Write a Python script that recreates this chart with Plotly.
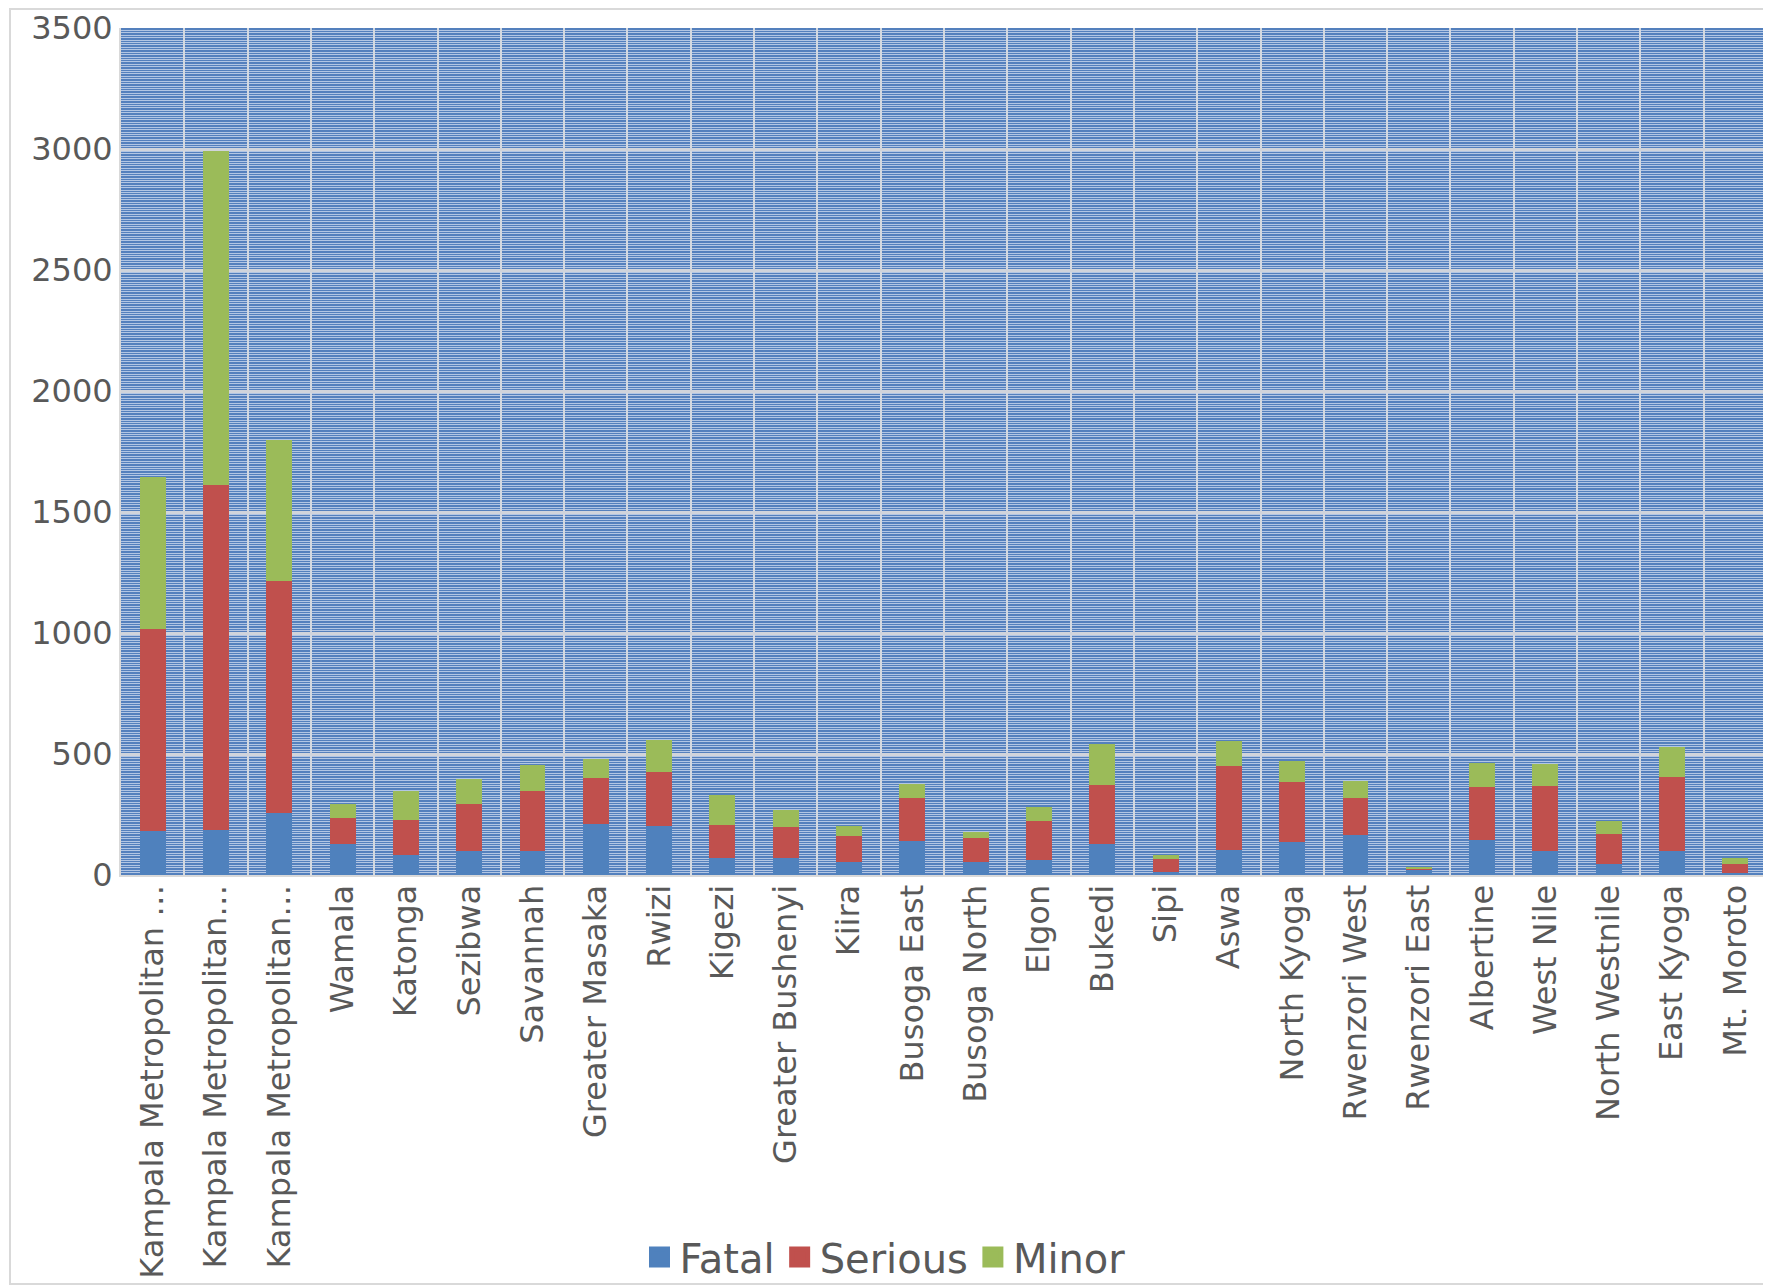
import plotly.graph_objects as go

categories = ["Kampala Metropolitan …", "Kampala Metropolitan…", "Kampala Metropolitan…",
              "Wamala", "Katonga", "Sezibwa", "Savannah", "Greater Masaka", "Rwizi", "Kigezi",
              "Greater Bushenyi", "Kiira", "Busoga East", "Busoga North", "Elgon", "Bukedi",
              "Sipi", "Aswa", "North Kyoga", "Rwenzori West", "Rwenzori East", "Albertine",
              "West Nile", "North Westnile", "East Kyoga", "Mt. Moroto"]
cat_ids = [f"c{i}" for i in range(len(categories))]

fatal = [182, 186, 256, 128, 83, 99, 99, 211, 202, 70, 70, 54, 140, 54, 62, 128,
         12, 103, 136, 165, 22, 145, 99, 45, 99, 10]
serious = [835, 1426, 959, 108, 144, 194, 248, 190, 224, 136, 128, 107, 178, 99, 161, 244,
           54, 347, 248, 153, 4, 219, 269, 124, 306, 35]
minor = [628, 1380, 583, 57, 120, 104, 107, 78, 132, 124, 71, 41, 58, 25, 58, 169,
         17, 103, 87, 70, 8, 99, 91, 54, 124, 25]

y_ticks = [0, 500, 1000, 1500, 2000, 2500, 3000, 3500]

series = [("Fatal", fatal, "#4f81bd"), ("Serious", serious, "#c0504d"), ("Minor", minor, "#9bbb59")]

fig = go.Figure()
for name, vals, col in series:
    fig.add_trace(go.Bar(x=cat_ids, y=vals, name=name, legendgroup=name, showlegend=False,
                         marker=dict(color=col, line=dict(width=0))))
for name, vals, col in series:
    fig.add_trace(go.Scatter(x=[None], y=[None], mode="markers", name=name, legendgroup=name,
                             marker=dict(symbol="square", size=26, color=col,
                                         line=dict(color=col, width=5)),
                             showlegend=True))

# page body has an 8px margin; figure is sized to fit the window
W, H = 1763, 1279
L, R, T, B = 113, 4, 20, 412
plot_w = W - L - R
plot_h = H - T - B

fig.update_layout(
    width=W, height=H,
    barmode="stack", bargap=0.59,
    paper_bgcolor="white", plot_bgcolor="#5480bd",
    margin=dict(l=L, r=R, t=T, b=B, autoexpand=False),
    font=dict(family="DejaVu Sans", color="#595959", size=32),
    showlegend=True,
    legend=dict(orientation="h", x=(877 - L) / plot_w, xanchor="center",
                y=-(1249 - T - plot_h) / plot_h, yanchor="middle",
                font=dict(size=40, color="#595959"), itemsizing="trace",
                traceorder="normal", bgcolor="rgba(0,0,0,0)"),
    xaxis=dict(type="category", tickmode="array", tickvals=cat_ids, ticktext=categories,
               tickangle=-90, showgrid=True, tickson="boundaries",
               gridcolor="#d4d9e0", gridwidth=2, ticks="", showline=True,
               linecolor="#d9d9d9", linewidth=2, ticklabelstandoff=-5,
               tickfont=dict(size=32, color="#595959")),
    yaxis=dict(range=[0, 3500], tickmode="array", tickvals=y_ticks,
               showgrid=True, gridcolor="#d0d4db", gridwidth=3, zeroline=False,
               showline=True, linecolor="#d9d9d9", linewidth=2, ticks="",
               tickfont=dict(size=32, color="#595959"),
               minor=dict(dtick=10, tick0=0, showgrid=True, gridcolor="#b2c6e4", gridwidth=1)),
    shapes=[dict(type="rect", xref="paper", yref="paper",
                 x0=(2 - L) / plot_w, x1=(1761 - L) / plot_w,
                 y0=-(1276 - T - plot_h) / plot_h, y1=(plot_h + T - 1) / plot_h,
                 line=dict(color="#d9d9d9", width=2), fillcolor="rgba(0,0,0,0)", layer="below")],
)

fig.write_html("out.html")
